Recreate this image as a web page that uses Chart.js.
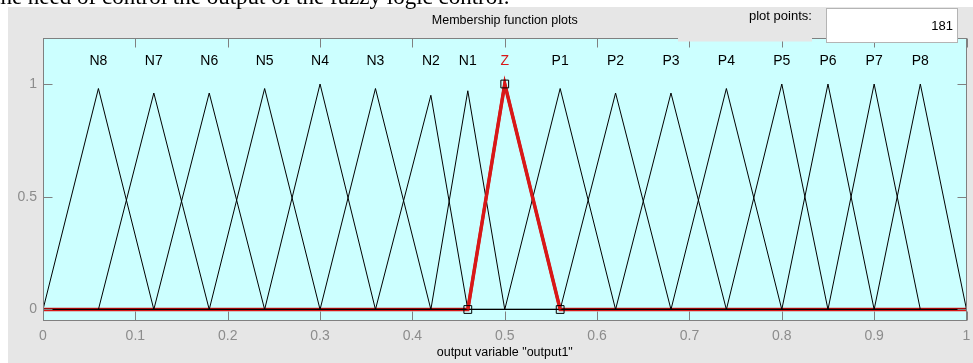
<!DOCTYPE html>
<html>
<head>
<meta charset="utf-8">
<script src="https://cdn.jsdelivr.net/npm/chart.js@4"></script>
<style>
  body { margin: 0; background: #fff; overflow: hidden; }
</style>
</head>
<body>
<canvas id="grafico" width="973" height="363"></canvas>
<script>
// funções de pertinência (triangulares)
var mfNames  = ['N8', 'N7', 'N6', 'N5', 'N4', 'N3', 'N2', 'N1', 'Z', 'P1', 'P2', 'P3', 'P4', 'P5', 'P6', 'P7', 'P8'];
var mfStart  = [0, 0.06, 0.12, 0.18, 0.24, 0.30, 0.36, 0.42, 0.46, 0.50, 0.56, 0.62, 0.68, 0.74, 0.80, 0.85, 0.90];
var mfPeak   = [0.06, 0.12, 0.18, 0.24, 0.30, 0.36, 0.42, 0.46, 0.50, 0.56, 0.62, 0.68, 0.74, 0.80, 0.85, 0.90, 0.95];
var mfEnd    = [0.12, 0.18, 0.24, 0.30, 0.36, 0.42, 0.46, 0.50, 0.56, 0.62, 0.68, 0.74, 0.80, 0.85, 0.90, 0.95, 1.0];
var mfHeight = [0.98, 0.96, 0.96, 0.98, 1.0, 0.98, 0.95, 0.97, 1.0, 0.98, 0.96, 0.96, 0.98, 1.0, 1.0, 1.0, 1.0];
var selected = 8; // Z

var xTicks = [0, 0.1, 0.2, 0.3, 0.4, 0.5, 0.6, 0.7, 0.8, 0.9, 1];
var xTickLabels = ['0', '0.1', '0.2', '0.3', '0.4', '0.5', '0.6', '0.7', '0.8', '0.9', '1'];
var yTicks = [0, 0.5, 1];
var yTickLabels = ['0', '0.5', '1'];

var plotPoints = '181';
var xTitle = 'output variable "output1"';
var chartTitle = 'Membership function plots';

var sans = '"Liberation Sans", Arial, sans-serif';
var red = '#d81818';

// montar os datasets
var datasets = [];
mfNames.forEach(function (nome, i) {
    var sel = i == selected;
    datasets.push({
        label: nome,
        data: [
            { x: 0, y: 0 },
            { x: mfStart[i], y: 0 },
            { x: mfPeak[i], y: mfHeight[i] },
            { x: mfEnd[i], y: 0 },
            { x: 1, y: 0 }
        ],
        showLine: true,
        borderColor: sel ? red : '#000',
        borderWidth: sel ? 3.5 : 1,
        pointRadius: 0,
        order: sel ? 5 : 3
    });
});

// triângulo selecionado por cima das outras linhas
datasets.push({
    label: 'sel',
    data: [
        { x: mfStart[selected], y: 0 },
        { x: mfPeak[selected], y: mfHeight[selected] },
        { x: mfEnd[selected], y: 0 }
    ],
    showLine: true,
    borderColor: red,
    borderWidth: 3,
    pointRadius: 0,
    order: 2
});

// quadradinhos nos vértices
datasets.push({
    label: 'vertices',
    data: [
        { x: mfStart[selected], y: 0 },
        { x: mfPeak[selected], y: mfHeight[selected] },
        { x: mfEnd[selected], y: 0 }
    ],
    showLine: false,
    pointStyle: 'rect',
    pointRadius: 5.5,
    pointBorderWidth: 1,
    pointBorderColor: '#000',
    pointBackgroundColor: 'rgba(0,0,0,0)',
    order: 1
});

var moldura = {
    id: 'moldura',
    beforeDraw: function (chart) {
        var ctx = chart.ctx, a = chart.chartArea;
        ctx.save();
        ctx.fillStyle = '#fff';
        ctx.fillRect(0, 0, chart.width, chart.height);
        ctx.fillStyle = '#e6e6e6';
        ctx.fillRect(8, 7, chart.width - 8, chart.height - 7);
        ctx.fillStyle = '#ccffff';
        ctx.fillRect(a.left, a.top, a.right - a.left, a.bottom - a.top);
        ctx.restore();
    },
    afterDatasetsDraw: function (chart) {
        var ctx = chart.ctx, a = chart.chartArea;
        var xs = chart.scales.x, ys = chart.scales.y;
        var L = Math.round(a.left) + 0.5, R = Math.round(a.right) - 0.5;
        var T = Math.round(a.top) + 0.5, B = Math.round(a.bottom) - 0.5;
        ctx.save();
        ctx.strokeStyle = '#808080';
        ctx.lineWidth = 1;
        ctx.strokeRect(L, T, R - L, B - T);
        ctx.beginPath();
        xTicks.forEach(function (v) {
            var px = Math.round(xs.getPixelForValue(v)) + 0.5;
            ctx.moveTo(px, T); ctx.lineTo(px, T + 9);
            ctx.moveTo(px, B); ctx.lineTo(px, B - 9);
        });
        yTicks.forEach(function (v) {
            var py = Math.round(ys.getPixelForValue(v)) + 0.5;
            ctx.moveTo(L, py); ctx.lineTo(L + 9, py);
            ctx.moveTo(R, py); ctx.lineTo(R - 9, py);
        });
        ctx.stroke();

        // nomes das funções
        ctx.font = '14px ' + sans;
        ctx.textAlign = 'center';
        ctx.textBaseline = 'middle';
        mfNames.forEach(function (nome, i) {
            ctx.fillStyle = i == selected ? red : '#000';
            ctx.fillText(nome, xs.getPixelForValue(mfPeak[i]), 61);
        });
        ctx.restore();
    },
    afterDraw: function (chart) {
        var ctx = chart.ctx, a = chart.chartArea;
        var cx = (a.left + a.right) / 2;
        ctx.save();
        // painel cinza do campo "plot points"
        ctx.fillStyle = '#e6e6e6';
        ctx.fillRect(678, 28, 134, 13.5);
        ctx.fillStyle = '#fff';
        ctx.fillRect(826, 8, 132, 35);
        ctx.strokeStyle = '#b4b4b4';
        ctx.strokeRect(826.5, 8.5, 131, 34);

        ctx.fillStyle = '#000';
        ctx.textBaseline = 'middle';
        ctx.font = '12.5px ' + sans;
        ctx.textAlign = 'center';
        ctx.fillText(chartTitle, cx, 21);
        ctx.fillText(xTitle, cx, 353);
        ctx.font = '13px ' + sans;
        ctx.textAlign = 'left';
        ctx.fillText('plot points:', 749, 16);
        ctx.textAlign = 'right';
        ctx.fillText(plotPoints, 953, 26);

        // texto do documento cortado no topo
        ctx.font = '23px "Liberation Serif", "Times New Roman", serif';
        ctx.textAlign = 'left';
        ctx.textBaseline = 'alphabetic';
        ctx.fillText('the need of control the output of the fuzzy logic control.', -6, 4);
        ctx.restore();
    }
};

var ctx = document.getElementById('grafico').getContext('2d');
new Chart(ctx, {
    type: 'scatter',
    data: { datasets: datasets },
    options: {
        responsive: false,
        animation: false,
        events: [],
        layout: { padding: { left: 0, right: 3, top: 38, bottom: 0 } },
        plugins: {
            legend: { display: false },
            tooltip: { enabled: false }
        },
        scales: {
            x: {
                type: 'linear',
                min: 0,
                max: 1,
                afterBuildTicks: function (axis) {
                    axis.ticks = xTicks.map(function (v) { return { value: v }; });
                },
                afterFit: function (axis) {
                    axis.height = 42;
                    axis.paddingLeft = 0;
                    axis.paddingRight = 0;
                },
                grid: { display: false, drawTicks: true, tickLength: 7 },
                border: { display: false },
                ticks: {
                    autoSkip: false,
                    maxRotation: 0,
                    padding: 0,
                    color: '#8c8c8c',
                    font: { family: sans, size: 14 },
                    callback: function (v) { return xTickLabels[xTicks.indexOf(v)]; }
                }
            },
            y: {
                type: 'linear',
                min: -0.051,
                max: 1.204,
                afterBuildTicks: function (axis) {
                    axis.ticks = yTicks.map(function (v) { return { value: v }; });
                },
                afterFit: function (axis) {
                    axis.width = 43;
                },
                grid: { display: false, drawTicks: true, tickLength: 6 },
                border: { display: false },
                ticks: {
                    padding: 0,
                    color: '#8c8c8c',
                    font: { family: sans, size: 14 },
                    callback: function (v) { return yTickLabels[yTicks.indexOf(v)]; }
                }
            }
        }
    },
    plugins: [moldura]
});
</script>
</body>
</html>
